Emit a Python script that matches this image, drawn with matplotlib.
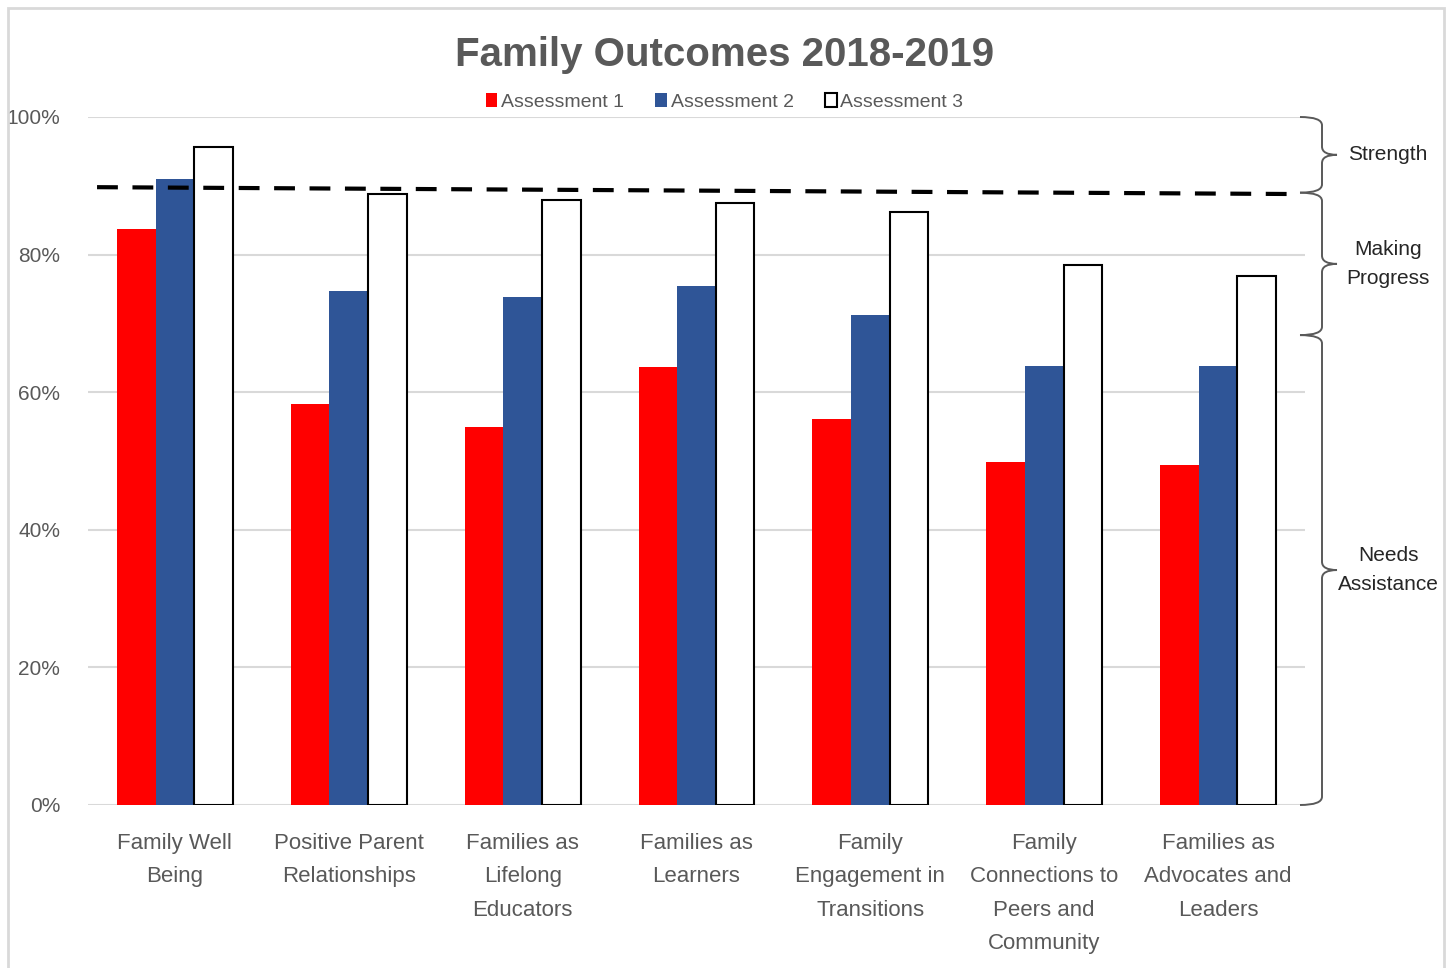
import matplotlib
matplotlib.use('Agg')
import matplotlib.pyplot as plt
import numpy as np
from matplotlib.path import Path
from matplotlib.patches import PathPatch, Rectangle
from matplotlib.transforms import blended_transform_factory

plt.rcParams['font.family'] = ['Liberation Sans', 'DejaVu Sans']

# data
categories = ['Family Well\nBeing', 'Positive Parent\nRelationships', 'Families as\nLifelong\nEducators',
              'Families as\nLearners', 'Family\nEngagement in\nTransitions', 'Family\nConnections to\nPeers and\nCommunity',
              'Families as\nAdvocates and\nLeaders']
assess1 = [83.7, 58.3, 54.9, 63.7, 56.1, 49.9, 49.4]
assess2 = [91.0, 74.7, 73.8, 75.4, 71.2, 63.8, 63.8]
assess3 = [95.6, 88.8, 87.9, 87.5, 86.2, 78.5, 76.9]
series_names = ['Assessment 1', 'Assessment 2', 'Assessment 3']
target_line = [89.8, 88.8]
bands = [(100, 89, 'Strength'), (89, 68.3, 'Making\nProgress'), (68.3, 0, 'Needs\nAssistance')]

gray = '#595959'
fig = plt.figure(figsize=(14.54, 9.68), dpi=100)
ax = fig.add_axes([88/1454, 1-805/968, 1217/1454, 688/968])

x = np.arange(len(categories))
w = 0.222
ax.bar(x - w, assess1, w, color='#ff0000', label=series_names[0], zorder=3)
ax.bar(x, assess2, w, color='#2f5597', label=series_names[1], zorder=3)
ax.bar(x + w, assess3, w, color='white', edgecolor='black', linewidth=1.5, label=series_names[2], zorder=3)

# dashed "strength" threshold line
ax.plot([-0.448, 6.466], target_line, color='black', lw=3, dashes=(5, 3.5), zorder=5, clip_on=False)

ax.set_xlim(-0.5, 6.5)
ax.set_ylim(0, 100)
ax.set_yticks(range(0, 101, 20))
ax.set_yticklabels([f'{v}%' for v in range(0, 101, 20)])
ax.yaxis.grid(True, color='#d9d9d9', lw=1.5, zorder=0)
ax.set_axisbelow(True)
for s in ax.spines.values():
    s.set_visible(False)
ax.tick_params(axis='both', length=0, labelcolor=gray, labelsize=15)
ax.tick_params(axis='y', pad=20)
ax.tick_params(axis='x', pad=20, labelsize=16)
ax.set_xticks(x)
ax.set_xticklabels(categories, linespacing=1.78, va='top')

ax.set_title('Family Outcomes 2018-2019', fontsize=29, fontweight='bold', color=gray, pad=37, x=0.523)
leg = ax.legend(loc='lower center', bbox_to_anchor=(0.523, 0.995), ncol=3, frameon=False,
                handlelength=0.6, handleheight=0.8, handletextpad=0.2, columnspacing=1.6,
                fontsize=14, borderpad=0)
for t in leg.get_texts():
    t.set_color(gray)

# braces on the right
tr = blended_transform_factory(ax.transAxes, ax.transData)
def px(p):
    return (p - 88) / 1217.0

def brace(y0, y1, label):
    ym = (y0 + y1) / 2
    xl, xv, xt = px(1300), px(1322), px(1337)
    c = 1.2
    verts = [(xl, y0), (xv, y0), (xv, y0 - c),
             (xv, ym + c), (xv, ym), (xt, ym),
             (xv, ym), (xv, ym - c),
             (xv, y1 + c), (xv, y1), (xl, y1)]
    codes = [Path.MOVETO, Path.CURVE3, Path.CURVE3,
             Path.LINETO, Path.CURVE3, Path.CURVE3,
             Path.CURVE3, Path.CURVE3,
             Path.LINETO, Path.CURVE3, Path.CURVE3]
    ax.add_patch(PathPatch(Path(verts, codes), transform=tr, fill=False,
                           edgecolor='#595959', lw=1.4, clip_on=False))
    ax.text(px(1388), ym, label, transform=tr, ha='center', va='center',
            fontsize=15, color='#262626', linespacing=1.65, clip_on=False)

for y0, y1, lab in bands:
    brace(y0, y1, lab)

# outer frame
fig.patches.append(Rectangle((8/1454, -0.05), (1444-8)/1454, 1.05 - 8/968,
                             transform=fig.transFigure, fill=False,
                             edgecolor='#d9d9d9', lw=2))

fig.savefig('out.png', dpi=100)
